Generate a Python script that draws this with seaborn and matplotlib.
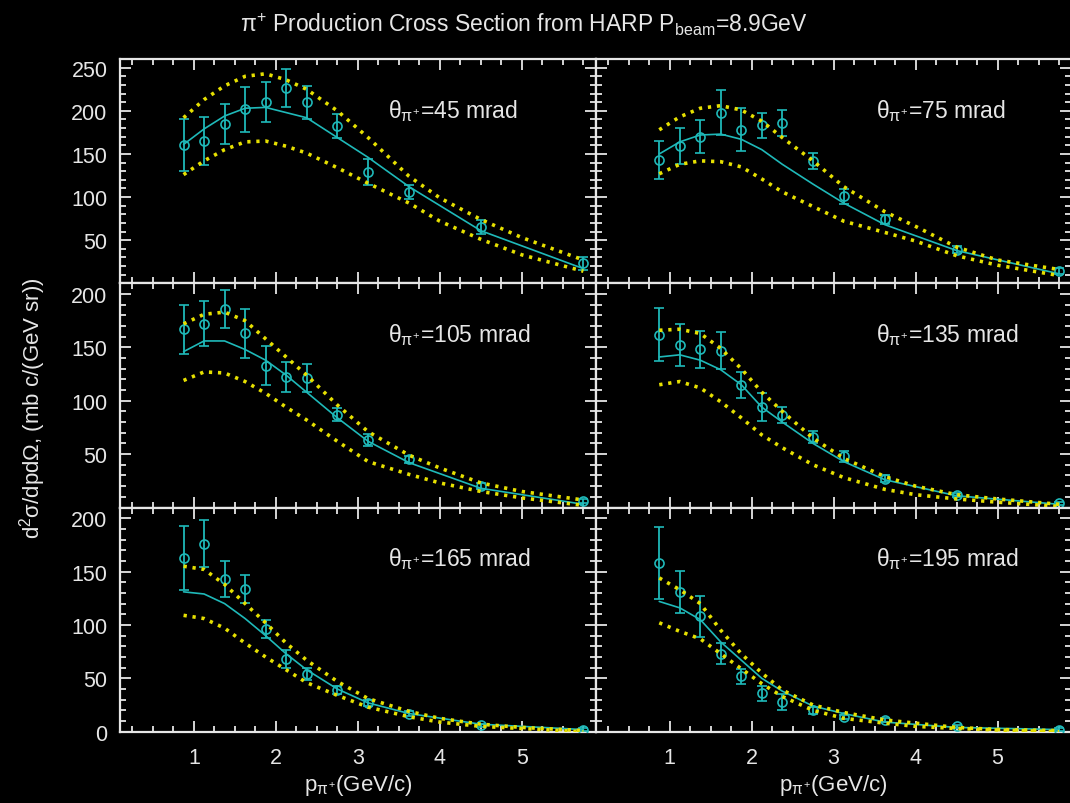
import matplotlib
matplotlib.use('Agg')
import matplotlib.pyplot as plt
import seaborn as sns
from matplotlib.ticker import MultipleLocator

# momentum bin centres (GeV/c) of the HARP data points
p_data = [0.875, 1.125, 1.375, 1.625, 1.875, 2.125, 2.375, 2.75, 3.125, 3.625, 4.5, 5.75]
p_band = [0.875, 1.125, 1.375, 1.625, 1.875, 2.125, 2.375, 2.75, 3.125, 3.625, 4.0, 4.5, 5.0, 5.75]

angles = [45, 75, 105, 135, 165, 195]

# 45 mrad
xs_45 = [160, 165, 185, 202, 210, 227, 210, 182, 129, 106, 65, 23]
err_45 = [30, 28, 23, 26, 23, 22, 19, 14, 15, 8, 8, 8]
fit_45 = [161, 179, 194, 203, 204, 198, 192, 169, 146, 112, 61, 17]
up_45 = [192, 213, 229, 240, 243, 236, 225, 200, 169, 124, 99, 74, 53, 27]
lo_45 = [126, 142, 155, 164, 165, 159, 151, 134, 116, 93, 72, 51, 33, 14]

# 75 mrad
xs_75 = [143, 159, 170, 198, 178, 183, 186, 142, 101, 74, 39, 14]
err_75 = [22, 21, 19, 26, 25, 14, 15, 9, 8.5, 5, 4, 3.5]
fit_75 = [150, 164, 172, 173, 167, 155, 138, 115, 93, 68, 38, 11]
up_75 = [178, 193, 203, 206, 201, 188, 169, 142, 112, 83, 66, 42, 27, 16]
lo_75 = [127, 138, 142, 141, 135, 121, 106, 89, 72, 59, 49, 32, 21, 9]

# 105 mrad
xs_105 = [167, 172, 186, 163, 133, 122, 121, 87, 63, 45, 20, 6]
err_105 = [23, 21, 18, 23, 18, 14, 13, 6, 5.5, 3.6, 2.7, 2]
fit_105 = [146, 156, 156, 148, 138, 124, 108, 84, 62, 42, 18, 3]
up_105 = [172, 181, 183, 175, 158, 141, 124, 96, 71, 49, 37, 23, 15, 7]
lo_105 = [119, 127, 126, 118, 107, 94, 82, 62, 43, 31, 23, 15, 9, 2]

# 135 mrad
xs_135 = [162, 152, 148, 147, 115, 94, 87, 66, 48, 27, 12, 4]
err_135 = [24.5, 19.5, 17.5, 17.5, 12, 13, 7.5, 5.5, 5, 3, 2, 1.5]
fit_135 = [141, 143, 138, 129, 115, 94, 80, 60, 43, 26, 11, 3]
up_135 = [166, 167, 163, 149, 130, 108, 90, 65, 46, 29, 20, 12, 8, 3]
lo_135 = [115, 118, 112, 99, 84, 68, 56, 40, 28, 17, 12, 8, 5, 1]

# 165 mrad
xs_165 = [163, 176, 143, 134, 96, 68, 54, 39, 27, 17, 6, 2]
err_165 = [30, 22, 17, 13, 8.6, 8.7, 6, 3.5, 2.5, 2, 1.5, 1]
fit_165 = [131, 129, 120, 106, 90, 73, 58, 40, 27, 17, 7, 2]
up_165 = [155, 152, 138, 120, 102, 83, 67, 47, 31, 19, 12.5, 7, 4, 1]
lo_165 = [109, 106, 97, 83, 70, 58, 46, 34, 23, 14, 9, 5, 3, 0]

# 195 mrad
xs_195 = [158, 131, 108, 73, 52, 36, 28, 20, 14, 11, 5, 2]
err_195 = [34, 19.5, 19.5, 10, 7, 7, 7.5, 3, 2, 1.5, 1.5, 1]
fit_195 = [122, 116, 105, 84, 67, 50, 38, 24, 17, 9, 4, 2]
up_195 = [144, 133, 120, 95, 73, 55, 39, 25, 18, 11, 8, 4, 2, 1]
lo_195 = [102, 94, 87, 73, 59, 45, 33, 20, 12.5, 8, 5, 3, 1.6, 0]

data = {45: (xs_45, err_45, fit_45, up_45, lo_45),
        75: (xs_75, err_75, fit_75, up_75, lo_75),
        105: (xs_105, err_105, fit_105, up_105, lo_105),
        135: (xs_135, err_135, fit_135, up_135, lo_135),
        165: (xs_165, err_165, fit_165, up_165, lo_165),
        195: (xs_195, err_195, fit_195, up_195, lo_195)}

cyan = '#1fb9b9'
yellow = '#e6e000'
fg = '#e6e6e6'

sns.set_theme(style='dark')
plt.rcParams.update({
    'figure.facecolor': 'black',
    'axes.facecolor': 'black',
    'savefig.facecolor': 'black',
    'text.color': fg,
    'axes.labelcolor': fg,
    'xtick.color': fg,
    'ytick.color': fg,
    'axes.edgecolor': fg,
    'mathtext.fontset': 'custom',
    'mathtext.rm': 'Liberation Sans',
    'mathtext.it': 'Liberation Sans',
    'mathtext.bf': 'Liberation Sans:bold',
})
plt.rcParams['font.family'] = ['Liberation Sans', 'DejaVu Sans']

fig = plt.figure(figsize=(10.7, 8.04), dpi=100)

left0, w = 120 / 1070, 475.7 / 1070
left1 = 595.7 / 1070
bottom0, h = 1 - 732.7 / 804, 224.2 / 804

for i, ang in enumerate(angles):
    row, col = divmod(i, 2)
    ax = fig.add_axes([left0 if col == 0 else left1, bottom0 + (2 - row) * h, w, h])
    xs, err, fit, up, lo = data[ang]

    sns.lineplot(x=p_data, y=fit, ax=ax, color=cyan, lw=1.2, zorder=3)
    ax.errorbar(p_data, xs, yerr=err, fmt='o', mfc='none', mec=cyan, mew=1.2, ms=6.5,
                ecolor=cyan, elinewidth=1.3, capsize=3.8, capthick=1.3, zorder=4)
    sns.lineplot(x=p_band, y=up, ax=ax, color=yellow, lw=2.6, linestyle=(0, (0.9, 1.6)), zorder=5)
    sns.lineplot(x=p_band, y=lo, ax=ax, color=yellow, lw=2.6, linestyle=(0, (0.9, 1.6)), zorder=5)

    ax.set_xlim(0.1, 5.9)
    if row == 0:
        ax.set_ylim(0, 260)
        ax.set_yticks([50, 100, 150, 200, 250])
    elif row == 1:
        ax.set_ylim(0, 210)
        ax.set_yticks([50, 100, 150, 200])
    else:
        ax.set_ylim(0, 210)
        ax.set_yticks([0, 50, 100, 150, 200])
    ax.set_xticks([1, 2, 3, 4, 5])
    ax.xaxis.set_minor_locator(MultipleLocator(0.25))
    ax.yaxis.set_minor_locator(MultipleLocator(10))

    ax.tick_params(which='both', direction='in', top=True, right=True, bottom=True, left=True,
                   colors=fg, width=1.3, labelsize=15.5)
    ax.tick_params(which='major', length=8)
    ax.tick_params(which='minor', length=4)
    ax.tick_params(axis='y', pad=9)
    ax.tick_params(axis='x', pad=11)
    if col == 1:
        ax.tick_params(labelleft=False)
    if row < 2:
        ax.tick_params(labelbottom=False)
    else:
        ax.set_xlabel(r'p$_{\pi^{+}}$(GeV/c)', fontsize=16, labelpad=3)
    ax.set_ylabel('')
    ax.grid(False)
    for s in ax.spines.values():
        s.set_color(fg)
        s.set_linewidth(1.6)
        s.set_visible(True)

    ax.text(0.563 if col == 0 else 0.589, 0.742, r'$\theta_{\pi^{+}}$=%d mrad' % ang,
            transform=ax.transAxes, fontsize=16.5, va='baseline', ha='left', color=fg)

fig.text(33 / 1070, 396 / 804, r'd$^2$σ/dpdΩ, (mb c/(GeV sr))', rotation=90,
         ha='center', va='center', fontsize=16, color=fg)
fig.text(524 / 1070, 1 - 25 / 804, r'π$^{+}$ Production Cross Section from HARP P$_{\mathrm{beam}}$=8.9GeV',
         ha='center', va='center', fontsize=16.5, color=fg)

fig.savefig('out.png', dpi=100, facecolor='black')
